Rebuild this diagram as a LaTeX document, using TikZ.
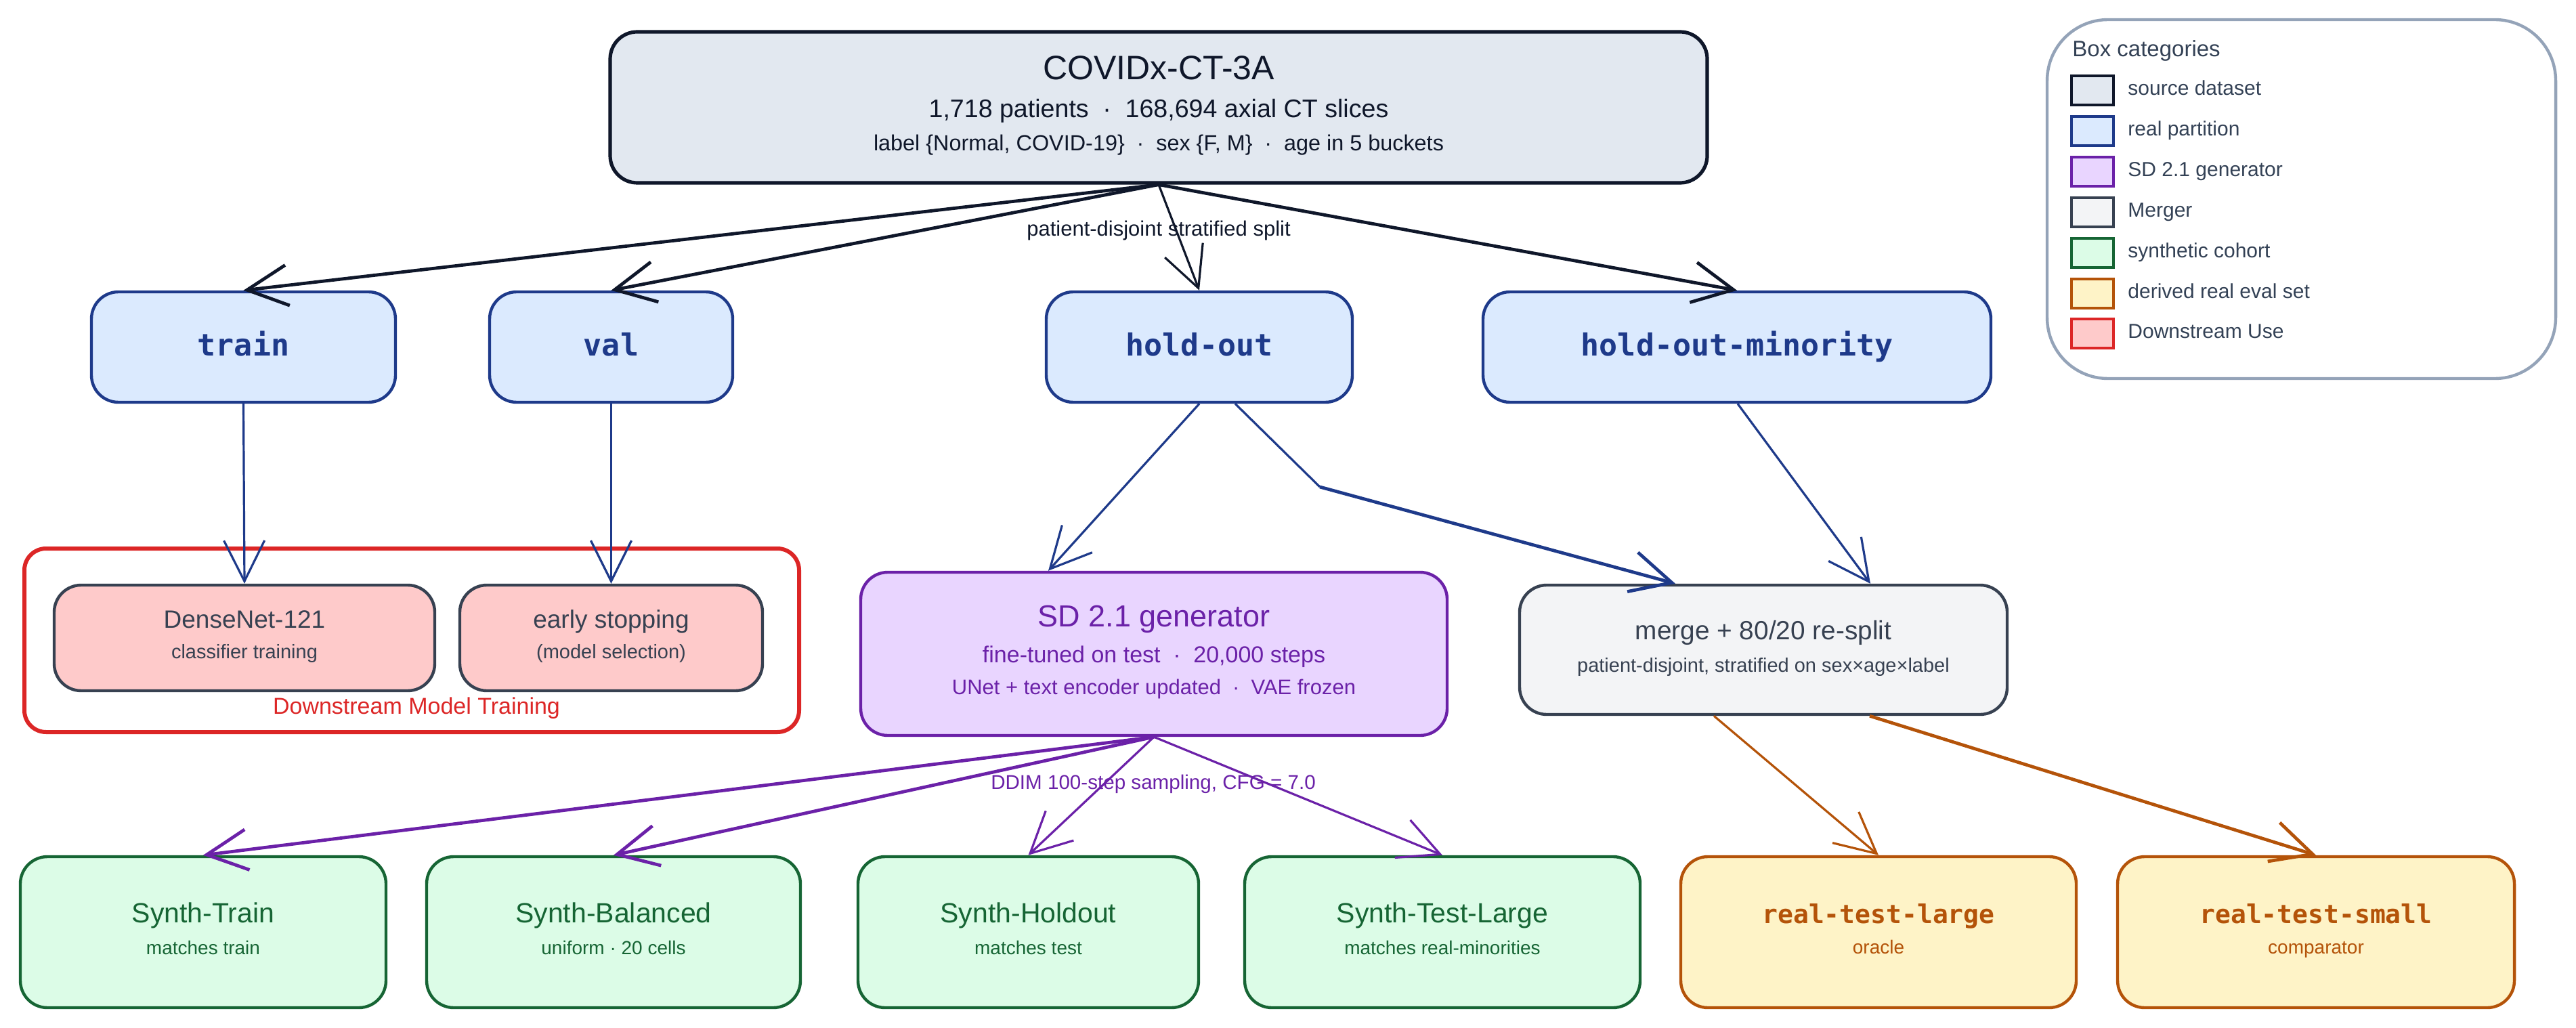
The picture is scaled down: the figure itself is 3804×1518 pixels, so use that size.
\documentclass[tikz,border=0pt]{standalone}
\usepackage{fontspec}
\setmainfont{Liberation Sans}
\newfontfamily\monofam{DejaVu Sans Mono}
\usetikzlibrary{arrows.meta,calc}
\definecolor{srcD}{HTML}{0F172A}\definecolor{srcF}{HTML}{E2E8F0}
\definecolor{realD}{HTML}{1E3A8A}\definecolor{realF}{HTML}{DBEAFE}
\definecolor{sdD}{HTML}{6B21A8}\definecolor{sdF}{HTML}{E9D5FF}
\definecolor{mrgD}{HTML}{374151}\definecolor{mrgF}{HTML}{F3F4F6}
\definecolor{synD}{HTML}{166534}\definecolor{synF}{HTML}{DCFCE7}
\definecolor{evD}{HTML}{B45309}\definecolor{evF}{HTML}{FEF3C7}
\definecolor{dsD}{HTML}{DC2626}\definecolor{dsF}{HTML}{FECACA}
\definecolor{legD}{HTML}{94A3B8}\definecolor{legT}{HTML}{334155}
\newcommand\dotsep{\hspace{0.55em}·\hspace{0.55em}}
\newcommand\fs[1]{\fontsize{#1}{#1}\selectfont}
\begin{document}
\begin{tikzpicture}[x=0.5pt,y=-0.5pt,
  box/.style={draw, rounded corners=20pt, line width=2.2pt, inner sep=0pt},
  srcbox/.style={box, draw=srcD, fill=srcF, line width=2.6pt},
  realbox/.style={box, draw=realD, fill=realF, minimum height=81.5pt},
  sdbox/.style={box, draw=sdD, fill=sdF},
  mrgbox/.style={box, draw=mrgD, fill=mrgF},
  synbox/.style={box, draw=synD, fill=synF, minimum height=111.5pt},
  evbox/.style={box, draw=evD, fill=evF, minimum height=111.5pt},
  dsbox/.style={box, draw=mrgD, fill=dsF, minimum height=78pt},
  tx/.style={anchor=base, inner sep=0pt},
  swatch/.style={draw, line width=1.6pt, minimum width=31pt, minimum height=21.5pt, inner sep=0pt},
  legtx/.style={anchor=base west, inner sep=0pt, text=legT, font=\fs{15}},
  plain/.style={line width=1.6pt, line join=round},
  arr/.style={-{Straight Barb[length=30pt,width=30pt]}, line width=1.6pt, line join=round},
  thick arr/.style={arr, line width=2.4pt},
]
\useasboundingbox (0,0) rectangle (3804,1518);

% downstream container
\draw[draw=dsD, line width=3pt, rounded corners=16pt] (36,810) rectangle (1180,1081);
\node[tx, text=dsD, font=\fs{17}] (dslabel) at (615,1054) {Downstream Model Training};

% source
\node[srcbox, minimum width=810pt, minimum height=111.5pt] (src) at (1711,158.5) {};
\node[tx, text=srcD, font=\fs{25}] (srct1) at (1711,118) {COVIDx-CT-3A};
\node[tx, text=srcD, font=\fs{18.8}] (srct2) at (1711,174) {1,718 patients\dotsep168,694 axial CT slices};
\node[tx, text=srcD, font=\fs{16.2}] (srct3) at (1711,223) {label \{Normal, COVID-19\}\dotsep sex \{F, M\}\dotsep age in 5 buckets};

% real partitions
\node[realbox, minimum width=224.5pt] (train) at (359.5,512.5) {};
\node[realbox, minimum width=179.5pt] (val) at (902.5,512.5) {};
\node[realbox, minimum width=226pt] (hold) at (1771,512.5) {};
\node[realbox, minimum width=375pt] (holdmin) at (2565,512.5) {};
\node[tx, text=realD, font=\monofam\bfseries\fs{22.5}] (traint) at (359.5,525) {train};
\node[tx, text=realD, font=\monofam\bfseries\fs{22.5}] (valt) at (902.5,525) {val};
\node[tx, text=realD, font=\monofam\bfseries\fs{22.5}] (holdt) at (1771,525) {hold-out};
\node[tx, text=realD, font=\monofam\bfseries\fs{22.5}] (holdmint) at (2565,525) {hold-out-minority};

% downstream boxes
\node[dsbox, minimum width=281pt] (dense) at (361,942) {};
\node[dsbox, minimum width=223.5pt] (early) at (902.5,942) {};
\node[tx, text=mrgD, font=\fs{18.5}] (denset1) at (361,927) {DenseNet-121};
\node[tx, text=mrgD, font=\fs{14.5}] (denset2) at (361,972) {classifier training};
\node[tx, text=mrgD, font=\fs{18.5}] (earlyt1) at (902.5,927) {early stopping};
\node[tx, text=mrgD, font=\fs{14.5}] (earlyt2) at (902.5,972) {(model selection)};

% SD generator
\node[sdbox, minimum width=433pt, minimum height=120.5pt] (sd) at (1704,965.5) {};
\node[tx, text=sdD, font=\fs{22.5}] (sdt1) at (1704,925) {SD 2.1 generator};
\node[tx, text=sdD, font=\fs{17}] (sdt2) at (1704,978) {fine-tuned on test\dotsep20,000 steps};
\node[tx, text=sdD, font=\fs{15.5}] (sdt3) at (1704,1025) {UNet + text encoder updated\dotsep VAE frozen};

% merger
\node[mrgbox, minimum width=360pt, minimum height=95.5pt] (merge) at (2604,959.5) {};
\node[tx, text=mrgD, font=\fs{19.4}] (merget1) at (2604,944) {merge + 80/20 re-split};
\node[tx, text=mrgD, font=\fs{14.5}] (merget2) at (2604,992) {patient-disjoint, stratified on sex×age×label};

% synthetic cohorts
\node[synbox, minimum width=270pt] (strain) at (300,1376.5) {};
\node[synbox, minimum width=276pt] (sbal) at (906,1376.5) {};
\node[synbox, minimum width=251.5pt] (shold) at (1518.5,1376.5) {};
\node[synbox, minimum width=292pt] (stl) at (2130,1376.5) {};
\node[tx, text=synD, font=\fs{20.5}] (straint1) at (300,1362) {Synth-Train};
\node[tx, text=synD, font=\fs{14}] (straint2) at (300,1409) {matches train};
\node[tx, text=synD, font=\fs{20.5}] (sbalt1) at (906,1362) {Synth-Balanced};
\node[tx, text=synD, font=\fs{14}] (sbalt2) at (906,1409) {uniform · 20 cells};
\node[tx, text=synD, font=\fs{20.5}] (sholdt1) at (1518.5,1362) {Synth-Holdout};
\node[tx, text=synD, font=\fs{14}] (sholdt2) at (1518.5,1409) {matches test};
\node[tx, text=synD, font=\fs{20.5}] (stlt1) at (2130,1362) {Synth-Test-Large};
\node[tx, text=synD, font=\fs{14}] (stlt2) at (2130,1409) {matches real-minorities};

% eval sets
\node[evbox, minimum width=292pt] (rtl) at (2774,1376.5) {};
\node[evbox, minimum width=293pt] (rts) at (3420,1376.5) {};
\node[tx, text=evD, font=\monofam\bfseries\fs{19}] (rtlt1) at (2774,1363) {real-test-large};
\node[tx, text=evD, font=\fs{14}] (rtlt2) at (2774,1408) {oracle};
\node[tx, text=evD, font=\monofam\bfseries\fs{19}] (rtst1) at (3420,1363) {real-test-small};
\node[tx, text=evD, font=\fs{14}] (rtst2) at (3420,1408) {comparator};

% edges: source
\draw[thick arr, draw=srcD] (src.south) -- (train.north);
\draw[thick arr, draw=srcD] (src.south) -- (val.north);
\draw[arr, draw=srcD] (src.south) -- (hold.north);
\draw[thick arr, draw=srcD] (src.south) -- (holdmin.north);
\node[tx, text=srcD, font=\fs{15.5}] (splitlab) at (1711,349) {patient-disjoint stratified split};

% edges: partitions
\draw[arr, draw=realD] (train.south) -- (dense.north);
\draw[arr, draw=realD] (val.south) -- (early.north);
\draw[arr, draw=realD] (hold.south) -- ($(sd.north)+(-156,0)$);
\coordinate (bend) at (1949,719);
\draw[plain, draw=realD] ($(hold.south)+(53,0)$) -- (bend);
\draw[thick arr, draw=realD] (bend) -- ($(merge.north)+(-130,0)$);
\draw[arr, draw=realD] ($(holdmin.south)+(1,0)$) -- ($(merge.north)+(158,0)$);

% edges: generator
\draw[thick arr, draw=sdD] (sd.south) -- (strain.north);
\draw[thick arr, draw=sdD] (sd.south) -- (sbal.north);
\draw[arr, draw=sdD] (sd.south) -- (shold.north);
\draw[arr, draw=sdD] (sd.south) -- (stl.north);
\node[tx, text=sdD, font=\fs{14.8}] (ddimlab) at (1703,1165) {DDIM 100-step sampling, CFG = 7.0};

% edges: merger
\draw[arr, draw=evD] ($(merge.south)+(-73,0)$) -- (rtl.north);
\draw[thick arr, draw=evD] ($(merge.south)+(157,0)$) -- (rts.north);

% legend
\draw[draw=legD, line width=2.2pt, rounded corners=45pt] (3023,29) rectangle (3774,559);
\node[anchor=base west, inner sep=0pt, text=legT, font=\fs{16.5}] (legtitle) at (3060,84) {Box categories};
\node[swatch, draw=srcD, fill=srcF] (lg1) at (3090,133.5) {};
\node[swatch, draw=realD, fill=realF] (lg2) at (3090,193.5) {};
\node[swatch, draw=sdD, fill=sdF] (lg3) at (3090,253.5) {};
\node[swatch, draw=mrgD, fill=mrgF] (lg4) at (3090,313.5) {};
\node[swatch, draw=synD, fill=synF] (lg5) at (3090,373.5) {};
\node[swatch, draw=evD, fill=evF] (lg6) at (3090,433.5) {};
\node[swatch, draw=dsD, fill=dsF] (lg7) at (3090,492.5) {};
\node[legtx] (lgt1) at (3142,141) {source dataset};
\node[legtx] (lgt2) at (3142,201) {real partition};
\node[legtx] (lgt3) at (3142,261) {SD 2.1 generator};
\node[legtx] (lgt4) at (3142,321) {Merger};
\node[legtx] (lgt5) at (3142,381) {synthetic cohort};
\node[legtx] (lgt6) at (3142,441) {derived real eval set};
\node[legtx] (lgt7) at (3142,500) {Downstream Use};
\end{tikzpicture}
\end{document}
